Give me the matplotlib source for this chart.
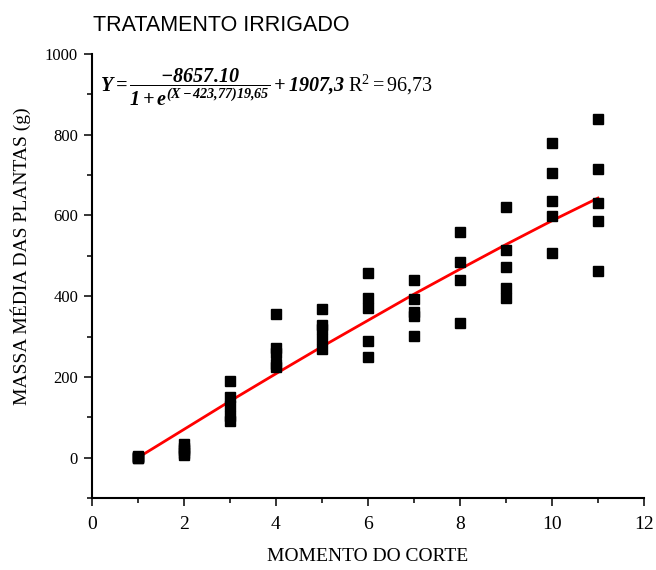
"""Massa média das plantas por momento do corte - tratamento irrigado."""
import matplotlib
matplotlib.use("Agg")
import matplotlib.pyplot as plt
from matplotlib.ticker import MultipleLocator

# observed points (momento do corte, massa media em g)
momento = [1, 1, 1, 1, 1,
           2, 2, 2, 2, 2,
           3, 3, 3, 3, 3,
           4, 4, 4, 4, 4,
           5, 5, 5, 5, 5,
           6, 6, 6, 6, 6,
           7, 7, 7, 7, 7,
           8, 8, 8, 8,
           9, 9, 9, 9, 9,
           10, 10, 10, 10, 10,
           11, 11, 11, 11, 11]
massa = [0, 1, 3, 0, 2,
         33, 25, 18, 12, 7,
         191, 150, 128, 104, 91,
         357, 272, 259, 232, 224,
         368, 328, 318, 294, 269,
         457, 395, 370, 289, 249,
         440, 393, 362, 352, 301,
         560, 484, 440, 333,
         620, 514, 472, 420, 395,
         780, 704, 637, 598, 506,
         840, 716, 630, 585, 462]

# fitted curve read at each moment
fit_x = [1, 2, 3, 4, 5, 6, 7, 8, 9, 10, 11]
fit_y = [0, 70, 140, 208, 275, 340, 405, 467, 528, 587, 643]

title = "TRATAMENTO IRRIGADO"
equation = (r"$\mathbf{Y = \dfrac{-8657.10}{1+e^{(X-423{,}77)19{,}65}}+1907{,}3}"
            r"\ \mathrm{R^2 = 96{,}73}$")

plt.rcParams["font.family"] = ["Liberation Serif", "DejaVu Serif"]
plt.rcParams["mathtext.fontset"] = "custom"
plt.rcParams["mathtext.rm"] = "Liberation Serif"
plt.rcParams["mathtext.it"] = "Liberation Serif:italic"
plt.rcParams["mathtext.bf"] = "Liberation Serif:italic:bold"

fig = plt.figure(figsize=(6.56, 5.70), dpi=100)
ax = fig.add_axes([0.1402, 0.1263, 0.8415, 0.779])

ax.plot(momento, massa, "s", color="black", markersize=6.5, zorder=3)
ax.plot(fit_x, fit_y, color="red", linewidth=2, zorder=2)

ax.set_xlim(0, 12)
ax.set_ylim(-100, 1000)
ax.xaxis.set_major_locator(MultipleLocator(2))
ax.xaxis.set_minor_locator(MultipleLocator(1))
ax.yaxis.set_major_locator(MultipleLocator(200))
ax.yaxis.set_minor_locator(MultipleLocator(100))

for side in ["top", "right"]:
    ax.spines[side].set_visible(False)
for side in ["left", "bottom"]:
    ax.spines[side].set_linewidth(1.5)

ax.tick_params(axis="both", which="major", direction="out", length=6, width=1.1)
ax.tick_params(axis="both", which="minor", direction="out", length=3.5, width=1.1)
ax.tick_params(axis="x", which="major", labelsize=14, pad=7)
ax.tick_params(axis="y", which="major", labelsize=12, pad=4)

ax.set_xlabel("MOMENTO DO CORTE", fontsize=14)
ax.xaxis.set_label_coords(0.5, -0.113)
ax.set_ylabel("MASSA MÉDIA DAS PLANTAS (g)", fontsize=14)
ax.yaxis.set_label_coords(-0.11, 0.545)

ax.text(0.0145, 0.925, equation, transform=ax.transAxes, fontsize=14.5,
        ha="left", va="center")

fig.text(93 / 656, 1 - 31 / 570, title, family="Liberation Sans",
         fontsize=15.5, ha="left", va="baseline")

fig.savefig("out.png", dpi=100)
